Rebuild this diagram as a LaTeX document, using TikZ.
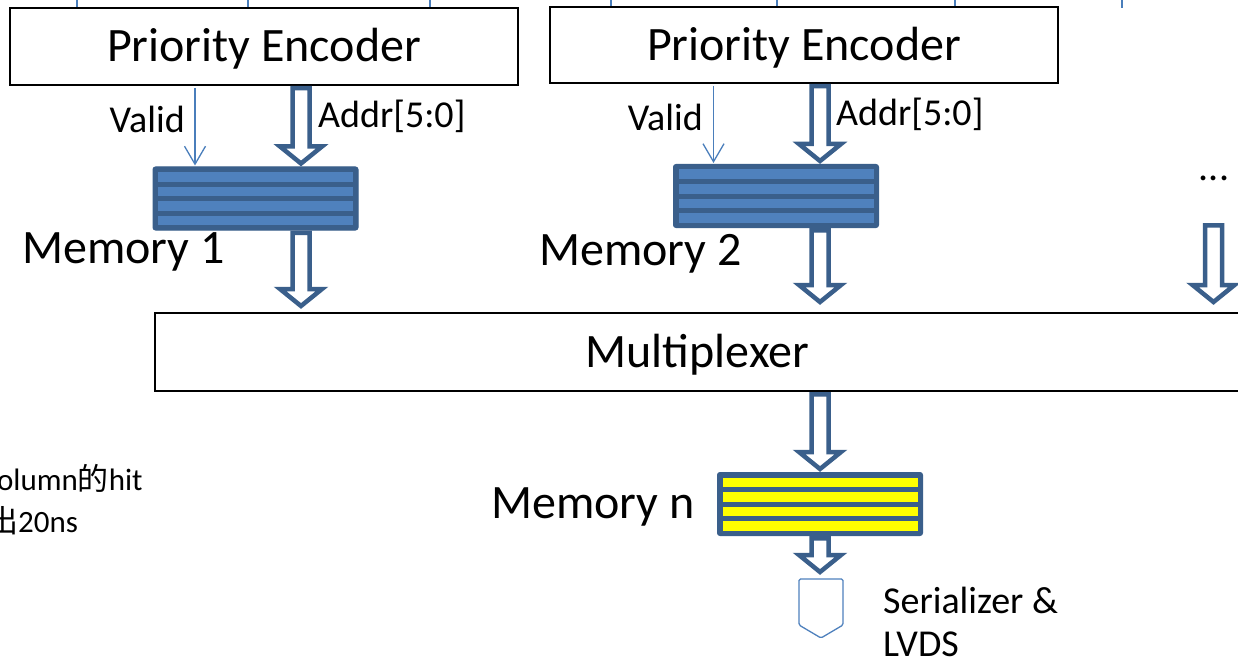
\documentclass[tikz,border=0pt]{standalone}
\usepackage{fontspec}
\setmainfont{Carlito}
\newfontfamily\cjk{Noto Sans CJK SC}
\usetikzlibrary{arrows.meta,calc}
\definecolor{dkblue}{HTML}{3A5F8B}
\definecolor{ltblue}{HTML}{4F81BD}
\definecolor{wireblue}{HTML}{4A7EBB}
\definecolor{memyellow}{HTML}{FFFF00}

\tikzset{
  blockbox/.style={draw=black, line width=2pt, inner sep=0pt, text height=31pt, text depth=0pt,
    font=\fontsize{48}{52}\selectfont},
  pebox/.style={blockbox, minimum width=508pt, minimum height=77pt},
  memblock/.style={rectangle, minimum width=205pt, minimum height=63pt, inner sep=0pt,
    fill=dkblue, draw=dkblue, line width=1pt, rounded corners=2.5pt,
    path picture={\foreach \i in {0,1,2,3}{%
      \fill[#1, sharp corners] ([xshift=5pt,yshift={-(5+\i*14.5)*1pt}]path picture bounding box.north west)
        rectangle ([xshift=-5pt,yshift={-(14.5+\i*14.5)*1pt}]path picture bounding box.north east);}}},
  barrow/.style={draw=dkblue, fill=white, line width=4.5pt, line join=miter},
  wire/.style={draw=wireblue, line width=1.3pt},
  validarrow/.style={wire, -{Straight Barb[length=18pt,width=21pt,line width=1.3pt]}},
  lbl/.style={inner sep=0pt, font=\fontsize{38}{44}\selectfont},
  biglbl/.style={inner sep=0pt, font=\fontsize{48}{52}\selectfont},
  notelbl/.style={inner sep=0pt, font=\fontsize{31}{36}\selectfont},
  serstyle/.style={draw=ltblue, fill=white, line width=1.3pt, rounded corners=1.5pt},
}

% #1 = x position (px), #2 = start (outer top), #3 = end (outer tip)
\newcommand{\blockarrow}[3]{%
  \path[barrow] let \p1=(#2), \p2=(#3) in
    (#1pt-8.5pt,\y1-2.25pt) -- (#1pt-8.5pt,\y2+20pt) -- (#1pt-21pt,\y2+20pt) --
    (#1pt,\y2+3pt) -- (#1pt+21pt,\y2+20pt) -- (#1pt+8.5pt,\y2+20pt) --
    (#1pt+8.5pt,\y1-2.25pt) -- cycle;}

\begin{document}
\begin{tikzpicture}[x=1pt,y=-1pt]
\useasboundingbox (0,0) rectangle (1238,663);
\clip (0,0) rectangle (1238,663);

% Priority encoders
\node[pebox] (pe1) at (264,46.5) {Priority Encoder};
\node[pebox, minimum height=76pt] (pe2) at (804,45) {Priority Encoder};

% incoming wires from above
\foreach \x in {77,248,430} \draw[wire] (\x,-2) -- (\x,0 |- pe1.north);
\foreach \x in {611,777,955} \draw[wire] (\x,-2) -- (\x,0 |- pe2.north);
\coordinate (wtop) at (1122,-2);
\coordinate (wbot) at (1122,8);
\draw[wire] (wtop) -- (wbot);

% Memories
\node[memblock=ltblue] (mem1) at (255.5,198.5) {};
\node[memblock=ltblue] (mem2) at (776,196) {};
\node[memblock=memyellow] (memn) at (820,504) {};

% Multiplexer
\node[blockbox, minimum width=1085pt, minimum height=78pt] (mux) at (697.5,352) {Multiplexer};

% Valid arrows
\coordinate (v1) at (195,0);
\coordinate (v2) at (713.5,0);
\draw[validarrow] ([yshift=-2pt]pe1.south -| v1) -- ([yshift=1pt]mem1.north -| v1);
\draw[validarrow] ([yshift=-2pt]pe2.south -| v2) -- ([yshift=1pt]mem2.north -| v2);

% block arrows
\blockarrow{301}{pe1.south}{mem1.north}
\blockarrow{301}{mem1.south}{[yshift=3pt]mux.north}
\blockarrow{820}{pe2.south}{mem2.north}
\blockarrow{820}{mem2.south}{[yshift=7pt]mux.north}
\coordinate (dotsarrow) at (1213.5,223);
\blockarrow{1213.5}{dotsarrow}{[yshift=7pt]mux.north}
\blockarrow{820}{mux.south}{memn.north}

% Serializer
\coordinate (ser) at (821,579);
\draw[serstyle] (799,579) -- (843,579) -- (843,625) -- (821,638) -- (799,625) -- cycle;
\blockarrow{820}{memn.south}{[yshift=4pt]ser}

% Labels
\node[lbl, anchor=base east] (valid1) at (185,133) {Valid};
\node[lbl, anchor=base east] (valid2) at (703,131) {Valid};
\node[lbl, anchor=base west] (addr1) at (318,128) {Addr[5:0]};
\node[lbl, anchor=base west] (addr2) at (836,126) {Addr[5:0]};
\node[biglbl, anchor=base west] (mem1lbl) at (22,263) {Memory 1};
\node[biglbl, anchor=base west] (mem2lbl) at (539,265) {Memory 2};
\node[biglbl, anchor=base west] (memnlbl) at (491,518) {Memory n};
\node[lbl, anchor=base, font=\fontsize{40}{44}\selectfont] (dots) at (1214,180) {...};
\node[lbl, anchor=base west] (ser1) at (883,613) {Serializer \&};
\node[lbl, anchor=base west] (ser2) at (883,656) {LVDS};

% Note at left (cut off by page edge)
\node[notelbl, anchor=base west] (note1) at (-16,490) {column{\cjk 的}hit};
\node[notelbl, anchor=base west] (note2) at (-13,532) {{\cjk 出}20ns};
\end{tikzpicture}
\end{document}
